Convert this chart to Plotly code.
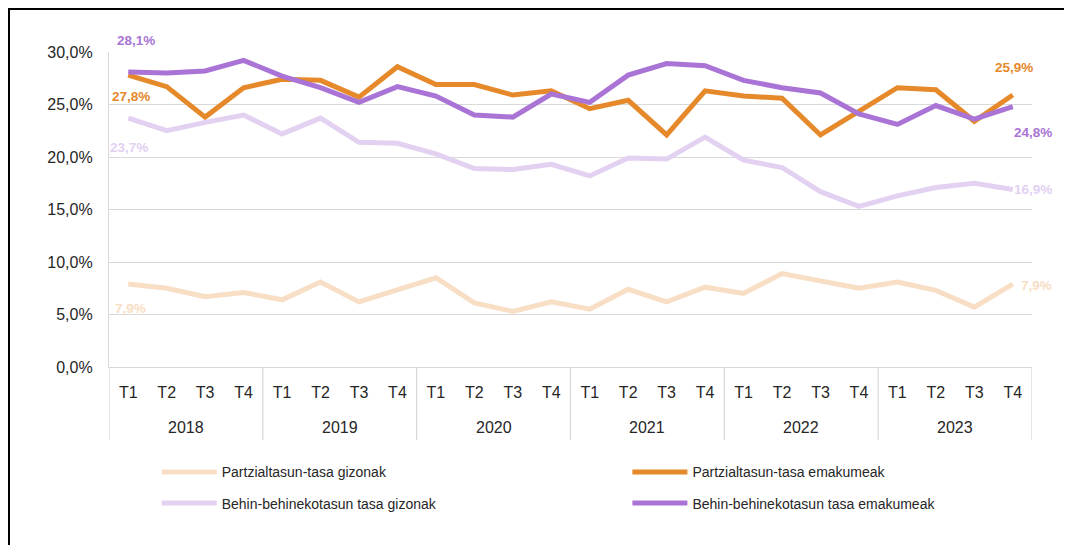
import plotly.graph_objects as go

# ---- data -------------------------------------------------------------
years = ["2018", "2019", "2020", "2021", "2022", "2023"]
quarters = ["T1", "T2", "T3", "T4"]

partz_gizonak = [7.9, 7.5, 6.7, 7.1, 6.4, 8.1, 6.2, 7.3, 8.5, 6.1, 5.3, 6.2,
                 5.5, 7.4, 6.2, 7.6, 7.0, 8.9, 8.2, 7.5, 8.1, 7.3, 5.7, 7.9]
partz_emakumeak = [27.8, 26.7, 23.8, 26.6, 27.4, 27.3, 25.7, 28.6, 26.9, 26.9, 25.9, 26.3,
                   24.6, 25.4, 22.1, 26.3, 25.8, 25.6, 22.1, 24.3, 26.6, 26.4, 23.4, 25.9]
behin_gizonak = [23.7, 22.5, 23.3, 24.0, 22.2, 23.7, 21.4, 21.3, 20.3, 18.9, 18.8, 19.3,
                 18.2, 19.9, 19.8, 21.9, 19.7, 19.0, 16.7, 15.3, 16.3, 17.1, 17.5, 16.9]
behin_emakumeak = [28.1, 28.0, 28.2, 29.2, 27.7, 26.6, 25.2, 26.7, 25.8, 24.0, 23.8, 26.0,
                   25.2, 27.8, 28.9, 28.7, 27.3, 26.6, 26.1, 24.1, 23.1, 24.9, 23.6, 24.8]

names = ["Partzialtasun-tasa gizonak", "Partzialtasun-tasa emakumeak",
         "Behin-behinekotasun tasa gizonak", "Behin-behinekotasun tasa emakumeak"]
y_ticks = [0, 5, 10, 15, 20, 25, 30]

# ---- styling ------------------------------------------------------------
FONT = "Liberation Sans, Arial, sans-serif"
TXT = "#262626"
GRID = "#D9D9D9"
colors = ["#F8DEC5", "#E5892B", "#E3D1F2", "#A974D5"]

# plot-area geometry in the figure (page body adds an 8px offset)
L, T, PW, PH = 101, 44, 923, 315
W, H = 1072, 545


def fmt(v):
    return f"{v:.1f}".replace(".", ",") + "%"


cat_labels = [q for _ in years for q in quarters]
x_idx = list(range(len(cat_labels)))
series = [partz_gizonak, partz_emakumeak, behin_gizonak, behin_emakumeak]
legend_ids = ["legend", "legend2", "legend3", "legend4"]

fig = go.Figure()
for name, vals, col, lg in zip(names, series, colors, legend_ids):
    fig.add_trace(go.Scatter(
        x=x_idx, y=vals, name=name, mode="lines",
        line=dict(color=col, width=5), legend=lg, hoverinfo="skip",
    ))

# label offsets (px) for first / last point of each series
first_off = [(2, -24), (3, -21), (1, -29), (8, 31)]
last_off = [(24, -1), (1, 28), (20, 0), (20, -26)]
annotations = []
for vals, col, fo, lo in zip(series, colors, first_off, last_off):
    for i, off in ((0, fo), (len(vals) - 1, lo)):
        annotations.append(dict(
            x=x_idx[i], y=vals[i], xref="x", yref="y", text=fmt(vals[i]),
            showarrow=False, xshift=off[0], yshift=off[1],
            xanchor="center", yanchor="middle",
            font=dict(family=FONT, size=13.5, color=col, weight="bold"),
        ))

# year labels (outer category level)
for g, yr in enumerate(years):
    annotations.append(dict(
        x=g * len(quarters) + (len(quarters) - 1) / 2, y=-60.7 / PH,
        xref="x", yref="paper", text=yr, showarrow=False,
        xanchor="center", yanchor="middle",
        font=dict(family=FONT, size=16, color=TXT),
    ))

shapes = []
# group dividers below the axis
for g in range(len(years) + 1):
    shapes.append(dict(
        type="line", xref="x", yref="paper",
        x0=g * len(quarters) - 0.5, x1=g * len(quarters) - 0.5,
        y0=0, y1=-73 / PH,
        line=dict(color=GRID, width=1.3),
    ))
# outer chart border (cropped frame): left edge and top edge of the figure
shapes.append(dict(
    type="rect", xref="paper", yref="paper",
    x0=(1 - L) / PW, x1=(W + 20 - L) / PW,
    y0=-(H + 20 - T - PH) / PH, y1=1 + (T - 1) / PH,
    line=dict(color="#000000", width=2), fillcolor="rgba(0,0,0,0)", layer="above",
))

# legend positions (left edge px in reference, row centre px in reference)
leg_pos = {"legend": (156.7, 472.3), "legend2": (627.4, 472.3),
           "legend3": (156.7, 503.5), "legend4": (627.4, 503.5)}
legends = {}
for key, (lx, ly) in leg_pos.items():
    legends[key] = dict(
        orientation="h", x=(lx - 109) / PW, xanchor="left",
        y=-(ly - 367) / PH, yanchor="middle", itemwidth=55,
        font=dict(family=FONT, size=14, color=TXT), bgcolor="rgba(0,0,0,0)",
    )

fig.update_layout(
    width=W, height=H,
    margin=dict(l=L, r=W - L - PW, t=T, b=H - T - PH, pad=0),
    paper_bgcolor="white", plot_bgcolor="white",
    separators=",.",
    font=dict(family=FONT, color=TXT),
    xaxis=dict(
        range=[-0.5, len(cat_labels) - 0.5], tickmode="array",
        tickvals=x_idx, ticktext=cat_labels,
        showgrid=False, zeroline=False, showline=True,
        linecolor=GRID, linewidth=1.3, ticks="",
        tickfont=dict(family=FONT, size=16, color=TXT),
        ticklabelstandoff=11, fixedrange=True,
    ),
    yaxis=dict(
        range=[0, 30], tickmode="array", tickvals=y_ticks,
        ticktext=[fmt(v) for v in y_ticks],
        showgrid=True, gridcolor=GRID, gridwidth=1.3,
        zeroline=False, showline=True, linecolor=GRID, linewidth=1.3,
        ticks="", tickfont=dict(family=FONT, size=16, color=TXT),
        ticklabelstandoff=12, fixedrange=True,
    ),
    annotations=annotations,
    shapes=shapes,
    showlegend=True,
    **legends,
)

fig.write_html("out.html")
